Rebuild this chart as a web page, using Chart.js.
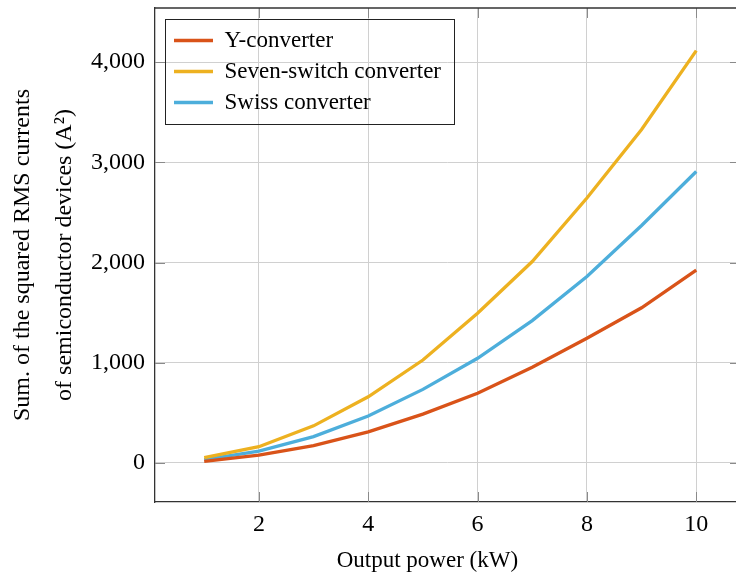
<!DOCTYPE html>
<html>
<head>
<meta charset="utf-8">
<script src="https://cdn.jsdelivr.net/npm/chart.js@4"></script>
<style>
  html, body { margin: 0; padding: 0; background: #fff; }
  #wrap { width: 736px; height: 575px; overflow: hidden; }
</style>
</head>
<body>
<div id="wrap"><canvas id="myChart" width="745" height="575"></canvas></div>
<script>
var power = [1, 2, 3, 4, 5, 6, 7, 8, 9, 10];
var yConverter = [15, 77, 172, 310, 487, 695, 955, 1244, 1548, 1925];
var sevenSwitch = [52, 162, 370, 660, 1027, 1494, 2010, 2644, 3327, 4115];
var swissConverter = [33, 117, 262, 468, 734, 1044, 1420, 1860, 2370, 2908];
var xTicks = [2, 4, 6, 8, 10];
var yTicks = [0, 1000, 2000, 3000, 4000];

var serif = "'Liberation Serif', 'DejaVu Serif', serif";

function pts(vals) {
	return power.map((p, i) => ({x: p, y: vals[i]}));
}

// legend placed inside the plot, with a frame; top border and inward ticks
var extras = {
	id: 'extras',
	beforeDraw(chart) {
		var lg = chart.legend, a = chart.chartArea;
		if (!lg) return;
		lg.left = a.left + 11;
		lg.top = a.top + 13;
	},
	afterDatasetsDraw(chart) {
		var ctx = chart.ctx, a = chart.chartArea;
		var xs = chart.scales.x, ys = chart.scales.y;
		ctx.save();
		ctx.strokeStyle = '#8a8a8a';
		ctx.lineWidth = 1;
		ctx.beginPath();
		xTicks.forEach(t => {
			var px = Math.round(xs.getPixelForValue(t)) + 0.5;
			ctx.moveTo(px, a.bottom); ctx.lineTo(px, a.bottom - 10);
			ctx.moveTo(px, a.top); ctx.lineTo(px, a.top + 10);
		});
		yTicks.forEach(t => {
			var py = Math.round(ys.getPixelForValue(t)) + 0.5;
			ctx.moveTo(a.left, py); ctx.lineTo(a.left + 10, py);
			ctx.moveTo(a.right, py); ctx.lineTo(a.right - 10, py);
		});
		ctx.stroke();
		ctx.strokeStyle = '#333';
		ctx.lineWidth = 1.3;
		ctx.beginPath();
		ctx.moveTo(a.left, a.top); ctx.lineTo(a.right, a.top); ctx.lineTo(a.right, a.bottom);
		ctx.stroke();
		ctx.restore();
	},
	afterDraw(chart) {
		var lg = chart.legend, a = chart.chartArea;
		if (!lg || !lg.legendHitBoxes.length) return;
		var w = Math.max(...lg.legendHitBoxes.map(h => h.width));
		var ctx = chart.ctx;
		var x0 = a.left + 10, y0 = a.top + 11;
		ctx.save();
		ctx.strokeStyle = '#222';
		ctx.lineWidth = 1;
		ctx.strokeRect(x0 + 0.5, y0 + 0.5, Math.round(w + 22), 105);
		ctx.restore();
	}
};

var ctx = document.getElementById('myChart').getContext('2d');
new Chart(ctx, {
	type: 'line',
	data: {
		datasets: [{
			label: 'Y-converter',
			data: pts(yConverter),
			borderColor: '#D95319',
			backgroundColor: '#D95319',
			borderWidth: 3.3,
			pointRadius: 0,
			pointStyle: 'line'
		}, {
			label: 'Seven-switch converter',
			data: pts(sevenSwitch),
			borderColor: '#EDB120',
			backgroundColor: '#EDB120',
			borderWidth: 3.3,
			pointRadius: 0,
			pointStyle: 'line'
		}, {
			label: 'Swiss converter',
			data: pts(swissConverter),
			borderColor: '#4DAEDB',
			backgroundColor: '#4DAEDB',
			borderWidth: 3.3,
			pointRadius: 0,
			pointStyle: 'line'
		}]
	},
	options: {
		responsive: false,
		animation: false,
		layout: { padding: { top: 8, right: 5, left: 0, bottom: 0 } },
		plugins: {
			tooltip: { enabled: false },
			legend: {
				position: 'chartArea',
				align: 'start',
				labels: {
					usePointStyle: true,
					pointStyleWidth: 39,
					padding: 8,
					color: '#000',
					font: { family: serif, size: 23 }
				}
			}
		},
		scales: {
			x: {
				type: 'linear',
				min: 0.1,
				max: 10.8,
				afterBuildTicks: s => { s.ticks = xTicks.map(v => ({value: v})); },
				afterFit: s => { s.height = 73; s.paddingLeft = 0; s.paddingRight = 0; },
				border: { color: '#333', width: 1.3 },
				grid: { color: '#d0d0d0', drawTicks: false },
				ticks: { color: '#000', padding: 8, font: { family: serif, size: 24 } },
				title: { display: true, text: 'Output power (kW)       ', color: '#000', padding: 0, font: { family: serif, size: 23 } }
			},
			y: {
				min: -390,
				max: 4540,
				afterBuildTicks: s => { s.ticks = yTicks.map(v => ({value: v})); },
				afterFit: s => { s.width = 155; s.paddingTop = 0; s.paddingBottom = 0; },
				border: { color: '#333', width: 1.3 },
				grid: { color: '#d0d0d0', drawTicks: false },
				ticks: {
					color: '#000', padding: 10,
					font: { family: serif, size: 24 },
					callback: v => v.toLocaleString('en-US')
				},
				title: {
					display: true,
					text: ['Sum. of the squared RMS currents', 'of semiconductor devices (A\u00B2)'],
					color: '#000',
					padding: { top: 2, bottom: 0 },
					font: { family: serif, size: 24, lineHeight: 1.75 }
				}
			}
		}
	},
	plugins: [extras]
});
</script>
</body>
</html>
